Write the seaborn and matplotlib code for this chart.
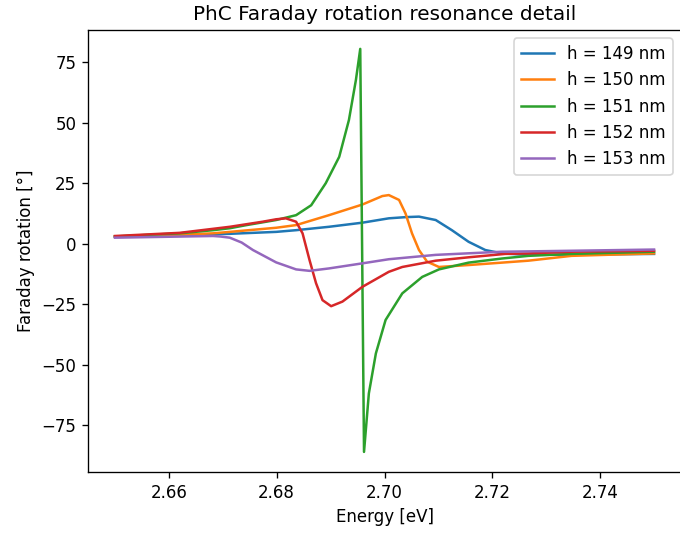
import numpy as np
import pandas as pd
import matplotlib
matplotlib.use("Agg")
import matplotlib.pyplot as plt
import seaborn as sns

labels = ["h = 149 nm", "h = 150 nm", "h = 151 nm", "h = 152 nm", "h = 153 nm"]
colors = ["#1f77b4", "#ff7f0e", "#2ca02c", "#d62728", "#9467bd"]

x149 = [2.650, 2.662, 2.6682, 2.6713, 2.6799, 2.6836, 2.6897, 2.6959, 2.7008, 2.7040,
        2.7064, 2.7095, 2.7125, 2.7156, 2.7187, 2.7218, 2.7267, 2.740, 2.750]
y149 = [2.9, 3.4, 3.9, 4.1, 4.9, 5.6, 7.0, 8.7, 10.5, 11.0,
        11.2, 9.8, 5.6, 0.8, -2.6, -4.0, -4.6, -4.4, -4.2]

x150 = [2.650, 2.662, 2.6682, 2.6713, 2.6799, 2.6836, 2.6897, 2.6959, 2.6996, 2.7008,
        2.7027, 2.7039, 2.7051, 2.7064, 2.7079, 2.7101, 2.7156, 2.7218, 2.7267, 2.7347, 2.750]
y150 = [3.0, 3.7, 4.3, 4.9, 6.6, 7.7, 11.8, 16.2, 19.7, 20.1,
        18.1, 12.5, 4.3, -2.6, -7.4, -9.6, -8.8, -7.8, -7.0, -5.0, -4.0]

x151 = [2.650, 2.662, 2.6682, 2.6713, 2.6744, 2.6799, 2.6836, 2.6864, 2.6891, 2.6916,
        2.6934, 2.6947, 2.6955, 2.6962, 2.6971, 2.6984, 2.7002, 2.7033, 2.7070, 2.7101,
        2.7156, 2.7218, 2.7267, 2.7347, 2.750]
y151 = [3.0, 4.3, 5.6, 6.4, 7.7, 9.8, 11.8, 15.9, 25.0, 35.9,
        51.1, 67.7, 80.5, -86.0, -61.8, -45.3, -31.5, -20.5, -13.7, -10.6,
        -7.8, -6.1, -5.0, -4.2, -3.3]

x152 = [2.650, 2.662, 2.6713, 2.6774, 2.6799, 2.6817, 2.6836, 2.6848, 2.6861, 2.6873,
        2.6885, 2.6901, 2.6922, 2.6959, 2.7008, 2.7033, 2.7095, 2.7156, 2.7224, 2.7267,
        2.7347, 2.750]
y152 = [3.2, 4.5, 7.0, 9.1, 10.1, 10.5, 9.1, 4.3, -6.8, -16.3,
        -23.3, -25.8, -23.9, -17.8, -11.6, -9.6, -7.0, -5.6, -4.2, -4.0,
        -3.3, -2.9]

x153 = [2.650, 2.6682, 2.6695, 2.6713, 2.6735, 2.6756, 2.6799, 2.6836, 2.6861, 2.6897,
        2.6959, 2.7008, 2.7095, 2.7218, 2.7286, 2.750]
y153 = [2.5, 3.2, 3.0, 2.5, 0.5, -2.6, -7.7, -10.6, -11.2, -10.2,
        -8.1, -6.4, -4.6, -3.3, -3.1, -2.4]

xs = [x149, x150, x151, x152, x153]
ys = [y149, y150, y151, y152, y153]

frames = []
for lab, xv, yv in zip(labels, xs, ys):
    frames.append(pd.DataFrame({"Energy": xv, "Rotation": yv, "series": lab}))
df = pd.concat(frames, ignore_index=True)

fig = plt.figure(figsize=(680 / 120, 534 / 120), dpi=120)
ax = fig.add_axes([88 / 680, 62 / 534, 593 / 680, 442 / 534])

sns.lineplot(data=df, x="Energy", y="Rotation", hue="series", hue_order=labels,
             palette=colors, estimator=None, sort=False, linewidth=1.5, ax=ax)

ax.set_xlim(2.645, 2.755)
ax.set_ylim(-94.3, 88.3)
ax.set_xticks([2.66, 2.68, 2.70, 2.72, 2.74])
ax.set_yticks([-75, -50, -25, 0, 25, 50, 75])
ax.set_xlabel("Energy [eV]")
ax.set_ylabel("Faraday rotation [°]")
ax.set_title("PhC Faraday rotation resonance detail")
ax.legend(loc="upper right", title=None)

fig.savefig("out.png", dpi=120)
